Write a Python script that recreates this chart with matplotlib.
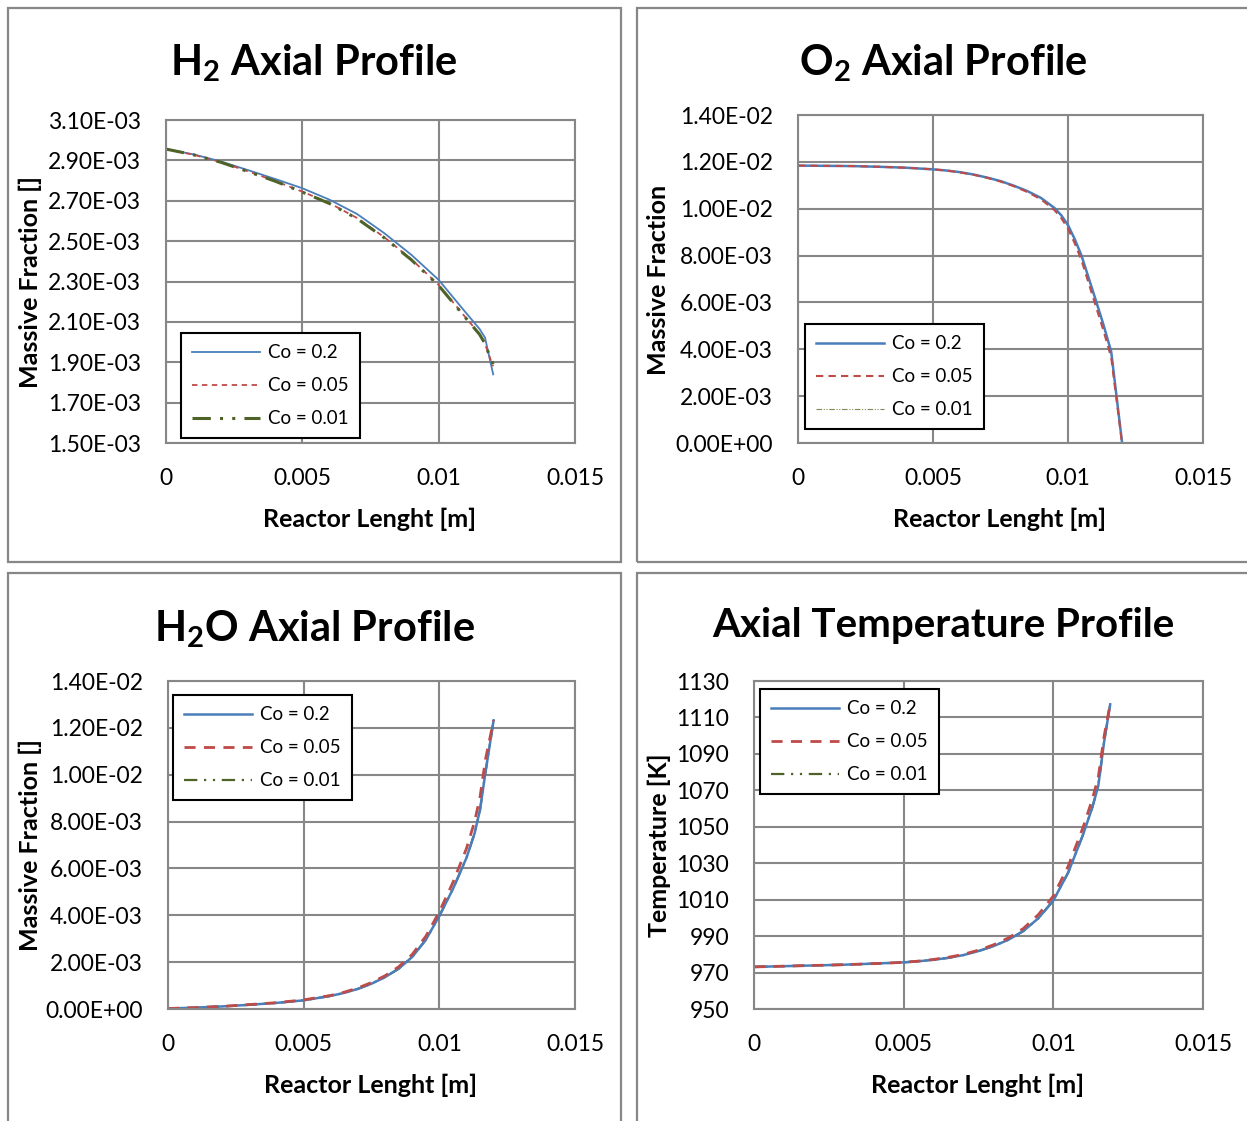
import numpy as np
import matplotlib
matplotlib.use("Agg")
import matplotlib.pyplot as plt
from matplotlib.patches import Rectangle
from matplotlib.ticker import FuncFormatter

plt.rcParams['font.family'] = ['Lato', 'DejaVu Sans']
plt.rcParams['mathtext.fontset'] = 'custom'
plt.rcParams['mathtext.rm'] = 'Lato:bold'
plt.rcParams['mathtext.it'] = 'Lato:bold'
plt.rcParams['mathtext.bf'] = 'Lato:bold'

labels = ['Co = 0.2', 'Co = 0.05', 'Co = 0.01']

# H2 massive fraction (E-03)
x_h2 = [0, 0.001, 0.002, 0.003, 0.004, 0.005, 0.006, 0.007, 0.008, 0.009,
        0.010, 0.011, 0.0115, 0.0117, 0.0119, 0.0120]
h2_02 = [2.956, 2.930, 2.895, 2.852, 2.808, 2.762, 2.705, 2.635, 2.540, 2.432,
         2.308, 2.145, 2.065, 2.022, 1.900, 1.840]
h2_005 = [2.956, 2.928, 2.892, 2.846, 2.798, 2.745, 2.688, 2.615, 2.520, 2.410,
          2.283, 2.120, 2.040, 1.990, 1.915, 1.880]
h2_001 = [2.956, 2.928, 2.891, 2.845, 2.797, 2.743, 2.686, 2.612, 2.517, 2.407,
          2.280, 2.118, 2.038, 1.992, 1.920, 1.890]

# O2 massive fraction
x_o2 = [0, 0.001, 0.002, 0.003, 0.004, 0.005, 0.0055, 0.006, 0.0065, 0.007,
        0.0075, 0.008, 0.0085, 0.009, 0.0095, 0.00975, 0.010, 0.01025, 0.0105,
        0.011, 0.0113, 0.0116, 0.0120]
o2_02 = [0.01184, 0.01183, 0.01182, 0.01179, 0.01175, 0.01168, 0.01163, 0.01156,
         0.01146, 0.01133, 0.01118, 0.01098, 0.01075, 0.01046, 0.01003, 0.00972,
         0.00930, 0.00870, 0.00800, 0.00620, 0.00510, 0.00390, 0.00004]
o2_005 = [0.01184, 0.01183, 0.01182, 0.01179, 0.01175, 0.01168, 0.01163, 0.01155,
          0.01145, 0.01132, 0.01116, 0.01096, 0.01071, 0.01040, 0.00994, 0.00960,
          0.00915, 0.00852, 0.00780, 0.00595, 0.00485, 0.00365, 0.00000]
o2_001 = o2_02

# H2O massive fraction
x_h2o = [0, 0.001, 0.002, 0.003, 0.004, 0.005, 0.006, 0.0065, 0.007, 0.0075,
         0.008, 0.0085, 0.009, 0.0095, 0.010, 0.0105, 0.011, 0.0113, 0.0115,
         0.0117, 0.0120]
h2o_02 = [0.00002, 0.00006, 0.00011, 0.00018, 0.00026, 0.00037, 0.00056, 0.00069,
          0.00086, 0.00108, 0.00136, 0.00172, 0.00222, 0.00295, 0.00397, 0.00512,
          0.00645, 0.00750, 0.00850, 0.01010, 0.01232]
h2o_005 = [0.00002, 0.00006, 0.00011, 0.00019, 0.00027, 0.00039, 0.00058, 0.00072,
           0.00090, 0.00113, 0.00142, 0.00180, 0.00233, 0.00310, 0.00415, 0.00540,
           0.00685, 0.00800, 0.00905, 0.01065, 0.01232]
h2o_001 = h2o_02

# temperature [K]
x_t = [0, 0.001, 0.002, 0.003, 0.004, 0.005, 0.0055, 0.006, 0.0065, 0.007,
       0.0075, 0.008, 0.0085, 0.009, 0.0095, 0.010, 0.0105, 0.011, 0.0113,
       0.0115, 0.0117, 0.0119]
t_02 = [973.1, 973.5, 973.9, 974.3, 974.9, 975.6, 976.2, 977.0, 978.1, 979.6,
        981.8, 984.5, 988.0, 992.8, 999.8, 1009.5, 1025.0, 1046.0, 1060.5,
        1072.3, 1097.0, 1117.2]
t_005 = [973.1, 973.5, 973.9, 974.3, 974.9, 975.6, 976.3, 977.2, 978.4, 980.0,
         982.3, 985.2, 989.0, 994.2, 1001.8, 1012.0, 1028.5, 1050.0, 1065.0,
         1077.0, 1100.0, 1117.5]
t_001 = t_02

W, H = 1247, 1121
fig = plt.figure(figsize=(W / 100, H / 100), dpi=100)
fig.patch.set_facecolor('white')

def fx(p):
    return p / W

def fy(p):
    return 1 - p / H

def add_ax(l, t, r, b):
    return fig.add_axes([fx(l), fy(b), fx(r - l), (b - t) / H])

grey = '#878787'
blue = '#4a7ebb'
red = '#be4b48'
olive = '#4f6228'

# chart borders
for l, t, r, b in [(8, 8, 621, 562), (637, 8, 1260, 562),
                   (8, 573, 621, 1130), (637, 573, 1260, 1130)]:
    fig.patches.append(Rectangle((fx(l), fy(b)), fx(r - l), (b - t) / H,
                                 transform=fig.transFigure, fill=False,
                                 edgecolor=grey, lw=1.6))

def style(ax, yticks, yfmt):
    ax.set_xlim(0, 0.015)
    ax.set_xticks([0, 0.005, 0.01, 0.015])
    ax.xaxis.set_major_formatter(FuncFormatter(lambda v, p: f"{v:g}"))
    ax.set_ylim(yticks[0], yticks[-1])
    ax.set_yticks(yticks)
    ax.yaxis.set_major_formatter(FuncFormatter(yfmt))
    ax.grid(True, color=grey, lw=1.5)
    ax.set_axisbelow(True)
    for s in ax.spines.values():
        s.set_color(grey)
        s.set_linewidth(1.5)
    ax.tick_params(length=0, labelsize=16.5, pad=18)
    ax.tick_params(axis='x', pad=18)

def legend(ax, handles, l, t):
    leg = fig.legend(handles, labels, loc='upper left',
                     bbox_to_anchor=(fx(l), fy(t)), borderaxespad=0,
                     fancybox=False, framealpha=1, edgecolor='black',
                     fontsize=13.5, handlelength=3.6, labelspacing=0.85,
                     handletextpad=0.45, borderpad=0.6)
    leg.get_frame().set_linewidth(1.5)

sci = lambda v, p: f"{v:.2E}"

# panel 1: H2
ax1 = add_ax(166, 120, 575, 443)
style(ax1, np.array([1.5, 1.7, 1.9, 2.1, 2.3, 2.5, 2.7, 2.9, 3.1]),
      lambda v, p: f"{v:.2f}E-03")
l1, = ax1.plot(x_h2, h2_02, color=blue, lw=1.3)
l2, = ax1.plot(x_h2, h2_005, color=red, lw=1.3, dashes=(3, 2.5))
l3, = ax1.plot(x_h2, h2_001, color=olive, lw=2.2, dashes=(6, 3, 1, 3, 1, 3))
legend(ax1, [l1, l2, l3], 181, 333)

# panel 2: O2
ax2 = add_ax(798, 115, 1203, 443)
style(ax2, np.arange(0, 0.0141, 0.002), sci)
l3, = ax2.plot(x_o2, o2_001, color='#7d8c55', lw=0.8, dashes=(5, 1.5, 1, 1.5, 1, 1.5))
l1, = ax2.plot(x_o2, o2_02, color=blue, lw=1.8)
l2, = ax2.plot(x_o2, o2_005, color=red, lw=1.5, dashes=(3.5, 2.5))
legend(ax2, [l1, l2, l3], 805, 324)

# panel 3: H2O
ax3 = add_ax(168, 681, 575, 1009)
style(ax3, np.arange(0, 0.0141, 0.002), sci)
l3, = ax3.plot(x_h2o, h2o_001, color=olive, lw=1.6, dashes=(6, 3, 1, 3, 1, 3))
l1, = ax3.plot(x_h2o, h2o_02, color=blue, lw=1.8)
l2, = ax3.plot(x_h2o, h2o_005, color=red, lw=2.0, dashes=(4, 3))
legend(ax3, [l1, l2, l3], 173, 695)

# panel 4: temperature
ax4 = add_ax(754, 681, 1203, 1009)
style(ax4, np.arange(950, 1131, 20), lambda v, p: f"{v:.0f}")
l3, = ax4.plot(x_t, t_001, color=olive, lw=1.6, dashes=(6, 3, 1, 3, 1, 3))
l1, = ax4.plot(x_t, t_02, color=blue, lw=1.8)
l2, = ax4.plot(x_t, t_005, color=red, lw=2.0, dashes=(4, 3))
legend(ax4, [l1, l2, l3], 760, 689)

# titles
tk = dict(ha='center', va='baseline', fontsize=30, fontweight='bold')
fig.text(fx(314), fy(75), r'H$_2$ Axial Profile', **tk)
fig.text(fx(943), fy(75), r'O$_2$ Axial Profile', **tk)
fig.text(fx(314), fy(641), r'H$_2$O Axial Profile', **tk)
fig.text(fx(943), fy(637), 'Axial Temperature Profile', fontsize=29,
         ha='center', va='baseline', fontweight='bold')

# axis labels
lk = dict(ha='center', va='center', fontsize=18, fontweight='bold')
fig.text(fx(370), fy(519), 'Reactor Lenght [m]', **lk)
fig.text(fx(1000), fy(519), 'Reactor Lenght [m]', **lk)
fig.text(fx(371), fy(1085), 'Reactor Lenght [m]', **lk)
fig.text(fx(978), fy(1085), 'Reactor Lenght [m]', **lk)
fig.text(fx(30), fy(282), 'Massive Fraction []', rotation=90, **lk)
fig.text(fx(659), fy(280), 'Massive Fraction', rotation=90, **lk)
fig.text(fx(30), fy(845), 'Massive Fraction []', rotation=90, **lk)
fig.text(fx(659), fy(845), 'Temperature [K]', rotation=90, **lk)

fig.savefig('out.png', dpi=100)
